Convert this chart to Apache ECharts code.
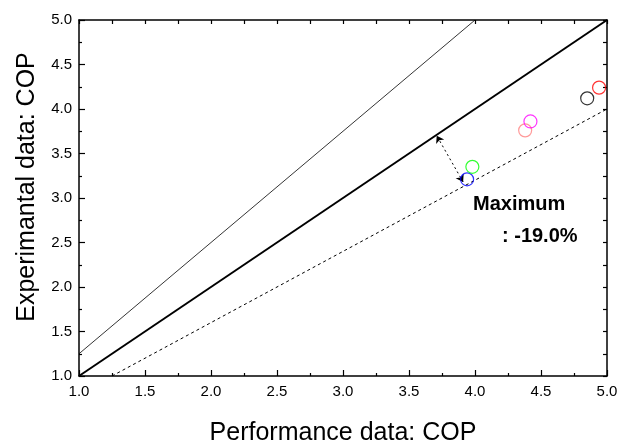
<!DOCTYPE html>
<html><head><meta charset="utf-8">
<script src="https://cdn.jsdelivr.net/npm/echarts@6.0.0/dist/echarts.min.js"></script>
<style>html,body{margin:0;padding:0;background:#fff}#c{width:631px;height:444px}</style>
</head><body><div id="c"></div>
<script>
// Data
const perfCOP = [3.94, 3.98, 4.38, 4.42, 4.85, 4.94];
const expCOP  = [3.21, 3.35, 3.76, 3.86, 4.12, 4.24];
const pointColors = ['#0000ff', '#00ff00', '#ff8080', '#ff00ff', '#000000', '#ff0000'];
const equalLine   = [[1, 1], [5, 5]];
const plus25Line  = [[1, 1.25], [4, 5]];
const minus20Line = [[1.25, 1], [5, 4]];
const maxArrow    = [[3.91, 3.18], [3.71, 3.70]];
const annotation  = ['Maximum', ': -19.0%'];
const xTitle = 'Performance data: COP';
const yTitle = 'Experimantal data: COP';

const FONT = '"Liberation Sans", Arial, sans-serif';
const chart = echarts.init(document.getElementById('c'), null, {renderer: 'canvas'});

function mainAxis(extra) {
  return Object.assign({
    type: 'value', min: 1, max: 5, interval: 0.5,
    axisLine: {show: true, onZero: false, lineStyle: {color: '#000', width: 1.5}},
    axisTick: {show: true, inside: true, length: 6, lineStyle: {color: '#000', width: 1.2}},
    minorTick: {show: true, splitNumber: 2, length: 3, lineStyle: {color: '#000', width: 1.2}},
    splitLine: {show: false},
    axisLabel: {color: '#000', fontSize: 15, fontFamily: FONT, formatter: v => v.toFixed(1)}
  }, extra);
}
function mirrorAxis(extra) {
  return Object.assign({
    type: 'value', min: 1, max: 5, interval: 0.25,
    axisLine: {show: true, onZero: false, lineStyle: {color: '#000', width: 1.5}},
    axisTick: {show: true, inside: true, length: 4, lineStyle: {color: '#000', width: 1.2}},
    axisLabel: {show: false},
    splitLine: {show: false}
  }, extra);
}

const option = {
  animation: false,
  backgroundColor: '#fff',
  grid: {left: 79, right: 24, top: 20, bottom: 68, containLabel: false, outerBoundsMode: 'none'},
  xAxis: [
    mainAxis({position: 'bottom', axisLabel: {color: '#000', fontSize: 15, fontFamily: FONT, margin: 8, formatter: v => v.toFixed(1)},
      name: xTitle, nameLocation: 'middle', nameGap: 45,
      nameTextStyle: {color: '#000', fontSize: 25, fontFamily: FONT}}),
    mirrorAxis({position: 'top'})
  ],
  yAxis: [
    mainAxis({position: 'left', axisLabel: {color: '#000', fontSize: 15, fontFamily: FONT, margin: 7, formatter: v => v.toFixed(1)}}),
    mirrorAxis({position: 'right'})
  ],
  series: [
    {type: 'line', data: equalLine, symbol: 'none', lineStyle: {color: '#000', width: 2}, z: 2},
    {type: 'line', data: plus25Line, symbol: 'none', lineStyle: {color: '#000', width: 0.8}, z: 2},
    {type: 'line', data: minus20Line, symbol: 'none', lineStyle: {color: '#000', width: 1, type: [3, 3]}, z: 2},
    {type: 'lines', coordinateSystem: 'cartesian2d', xAxisIndex: 0, yAxisIndex: 0,
      symbol: ['arrow', 'arrow'], symbolSize: 7,
      lineStyle: {color: '#000', width: 1, type: [2, 3], opacity: 1},
      data: [{coords: maxArrow}], z: 3},
    {type: 'scatter', symbol: 'circle', symbolSize: 13,
      data: perfCOP.map((x, i) => ({value: [x, expCOP[i]],
        itemStyle: {color: 'rgba(0,0,0,0)', borderColor: pointColors[i], borderWidth: 1.2}})),
      z: 4}
  ],
  graphic: [
    {type: 'text', x: 27, y: 187, rotation: Math.PI / 2,
      style: {text: yTitle, font: '25px ' + FONT, fill: '#000', align: 'center', verticalAlign: 'middle'}},
    {type: 'text', x: 473, y: 204,
      style: {text: annotation[0], font: 'bold 20px ' + FONT, fill: '#000', align: 'left', verticalAlign: 'middle'}},
    {type: 'text', x: 502, y: 236,
      style: {text: annotation[1], font: 'bold 20px ' + FONT, fill: '#000', align: 'left', verticalAlign: 'middle'}}
  ]
};
chart.setOption(option);
</script>
</body></html>
